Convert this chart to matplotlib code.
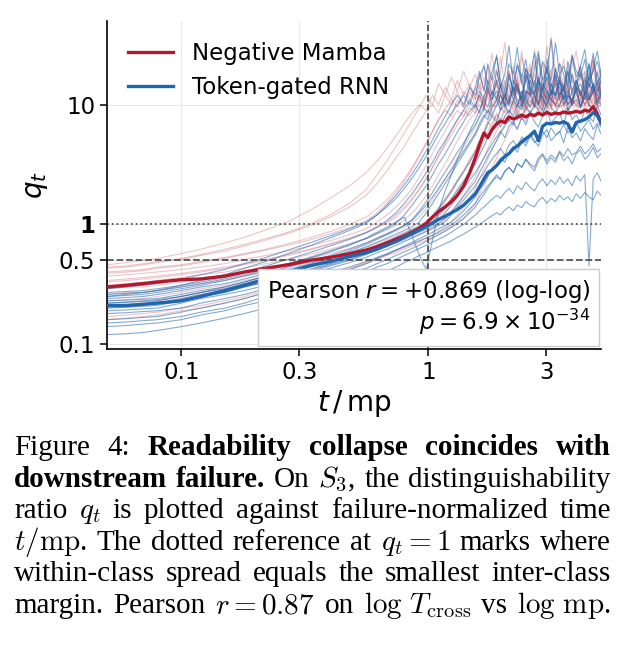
import matplotlib
matplotlib.use("Agg")
import matplotlib.pyplot as plt
from matplotlib.ticker import NullLocator

# failure-normalised time t / mp, shared by every run
t_grid = [0.05, 0.06, 0.07, 0.08, 0.10, 0.12, 0.15, 0.18, 0.22, 0.27, 0.33, 0.40, 0.48, 0.56,
          0.62, 0.68, 0.74, 0.80, 0.86, 0.92, 0.98, 1.04, 1.10, 1.17, 1.24, 1.31, 1.39, 1.47,
          1.55, 1.61, 1.68, 1.74, 1.81, 1.89, 1.96, 2.04, 2.12, 2.21, 2.29, 2.39, 2.48, 2.58, 2.69, 2.79,
          2.90, 3.02, 3.14, 3.27, 3.40, 3.53, 3.67, 3.82, 3.97, 4.13, 4.30, 4.47, 4.65, 4.83, 5.00]

mamba_mean = [0.30, 0.31, 0.32, 0.33, 0.345, 0.35, 0.37, 0.40, 0.43, 0.46, 0.50, 0.53, 0.57, 0.61,
              0.65, 0.70, 0.75, 0.80, 0.86, 0.93, 1.02, 1.15, 1.28, 1.40, 1.55, 1.75, 2.10, 2.70,
              3.6, 4.6, 5.8, 5.3, 6.2, 6.9, 7.3, 7.1, 7.9, 7.6, 7.8, 8.2, 7.9, 8.3, 8.1, 8.5,
              8.2, 8.6, 8.3, 8.5, 8.4, 8.7, 8.5, 8.6, 8.8, 8.6, 9.0, 8.8, 9.6, 8.4, 7.0]

rnn_mean = [0.21, 0.21, 0.215, 0.22, 0.23, 0.25, 0.28, 0.31, 0.35, 0.40, 0.45, 0.49, 0.54, 0.58,
            0.62, 0.67, 0.72, 0.78, 0.84, 0.90, 0.96, 1.03, 1.10, 1.17, 1.25, 1.33, 1.45, 1.62,
            1.80, 2.05, 2.40, 2.70, 2.85, 3.10, 3.40, 3.70, 3.90, 4.30, 4.50, 4.90, 5.20, 5.50, 6.00, 5.00,
            6.60, 7.00, 6.90, 7.10, 7.00, 7.20, 6.90, 5.90, 7.10, 7.30, 7.50, 7.90, 8.60, 8.10, 7.10]

# individual seeds, Negative Mamba
mamba_runs = [
    [0.46, 0.48, 0.50, 0.52, 0.57, 0.62, 0.70, 0.78, 0.90, 1.05, 1.30, 1.65, 2.10, 2.70,
     3.4, 4.3, 5.5, 7.0, 8.5, 10, 9.0, 12, 10, 14, 11, 16, 12, 15,
     11, 18, 13, 21, 12, 16, 25, 14, 19, 12, 17, 28, 15, 20, 13, 24,
     16, 31, 14, 19, 22, 13, 18, 26, 15, 21, 12, 17, 24, 14, 19],
    [0.43, 0.44, 0.46, 0.48, 0.51, 0.55, 0.60, 0.66, 0.74, 0.84, 0.97, 1.15, 1.40, 1.75,
     2.2, 2.8, 3.6, 4.5, 5.8, 7.2, 8.8, 10, 8.5, 12, 10, 13, 9.5, 14,
     11, 15, 9.5, 13, 17, 11, 14, 10, 19, 12, 15, 11, 16, 22, 12, 14,
     10, 17, 13, 20, 11, 15, 12, 18, 14, 10, 16, 13, 21, 12, 15],
    [0.40, 0.41, 0.42, 0.44, 0.46, 0.49, 0.53, 0.57, 0.62, 0.69, 0.77, 0.87, 1.00, 1.15,
     1.35, 1.60, 1.95, 2.40, 3.00, 3.80, 4.80, 6.0, 7.5, 9.0, 8.0, 11, 9.5, 13,
     10, 12, 9, 14, 11, 16, 10, 13, 9.5, 15, 12, 18, 11, 13, 10, 16,
     12, 14, 9.5, 17, 11, 13, 15, 10, 14, 12, 19, 11, 13, 10, 15],
    [0.37, 0.38, 0.39, 0.40, 0.42, 0.44, 0.47, 0.51, 0.55, 0.60, 0.66, 0.73, 0.82, 0.92,
     1.05, 1.20, 1.40, 1.65, 2.00, 2.50, 3.10, 3.90, 4.90, 6.0, 7.5, 9.0, 8.0, 10.5,
     9, 12, 10, 14, 9.5, 11, 15, 10, 13, 12, 17, 10, 12, 14, 9.5, 16,
     11, 13, 10, 18, 12, 11, 14, 10, 15, 13, 11, 16, 12, 10, 14],
    [0.34, 0.35, 0.36, 0.37, 0.39, 0.41, 0.44, 0.47, 0.51, 0.56, 0.62, 0.69, 0.77, 0.86,
     0.95, 1.05, 1.20, 1.40, 1.65, 2.00, 2.45, 3.00, 3.70, 4.60, 5.60, 6.8, 8.0, 9.5,
     8.5, 11, 9.5, 13, 10, 12, 9, 14, 11, 10, 15, 9.5, 12, 13, 10, 16,
     11, 9.5, 13, 12, 17, 10, 12, 11, 14, 9.5, 13, 11, 15, 10, 12],
    [0.31, 0.32, 0.33, 0.34, 0.36, 0.38, 0.40, 0.43, 0.47, 0.51, 0.56, 0.62, 0.69, 0.76,
     0.83, 0.90, 0.98, 1.08, 1.25, 1.45, 1.75, 2.10, 2.60, 3.20, 4.00, 5.00, 6.2, 7.5,
     8.5, 10, 9, 12, 8.5, 11, 13, 9.5, 12, 10, 14, 11, 9, 13, 12, 10,
     15, 11, 13, 9.5, 12, 14, 10, 11, 16, 12, 10, 13, 11, 14, 12],
    [0.29, 0.30, 0.30, 0.31, 0.33, 0.35, 0.37, 0.40, 0.43, 0.47, 0.52, 0.57, 0.63, 0.70,
     0.76, 0.82, 0.88, 0.95, 1.03, 1.15, 1.35, 1.60, 1.95, 2.40, 2.95, 3.60, 4.40, 5.40,
     6.5, 7.8, 9.0, 8.0, 10, 9.5, 12, 10, 11, 13, 9.5, 12, 10, 14, 11, 12,
     9.5, 15, 11, 10, 13, 12, 14, 10, 12, 11, 16, 10, 13, 12, 11],
    [0.26, 0.27, 0.27, 0.28, 0.30, 0.32, 0.34, 0.37, 0.40, 0.44, 0.48, 0.53, 0.58, 0.64,
     0.70, 0.75, 0.80, 0.86, 0.92, 0.98, 1.05, 1.20, 1.40, 1.65, 1.95, 2.35, 2.85, 3.50,
     4.2, 5.0, 6.0, 7.2, 8.5, 7.5, 9.5, 8.5, 11, 9.0, 10, 12, 9.5, 11, 10, 13,
     9, 12, 11, 10, 14, 9.5, 12, 10, 11, 13, 10, 12, 9.5, 14, 11],
    [0.23, 0.235, 0.24, 0.25, 0.27, 0.29, 0.31, 0.34, 0.37, 0.41, 0.45, 0.50, 0.55, 0.60,
     0.65, 0.70, 0.75, 0.80, 0.85, 0.91, 0.97, 1.03, 1.15, 1.35, 1.60, 1.90, 2.30, 2.80,
     3.4, 4.1, 5.0, 6.0, 7.0, 8.2, 7.3, 9.0, 8.0, 10, 8.5, 11, 9.5, 10, 12, 9,
     11, 10, 13, 9.5, 10, 12, 9, 11, 10, 13, 9.5, 12, 10, 11, 12],
    [0.20, 0.205, 0.21, 0.22, 0.24, 0.26, 0.28, 0.31, 0.34, 0.38, 0.42, 0.47, 0.52, 0.57,
     0.62, 0.66, 0.70, 0.74, 0.78, 0.83, 0.88, 0.94, 1.00, 1.10, 1.25, 1.45, 1.75, 2.10,
     2.5, 3.0, 3.6, 4.3, 5.1, 6.0, 7.0, 8.0, 7.2, 9.0, 8.0, 10, 8.5, 11, 9.5, 10,
     12, 9, 11, 10, 9.5, 13, 10, 11, 9.5, 12, 10, 11, 13, 9, 11],
    [0.17, 0.175, 0.18, 0.185, 0.20, 0.21, 0.23, 0.25, 0.28, 0.31, 0.35, 0.39, 0.43, 0.48,
     0.52, 0.56, 0.60, 0.64, 0.68, 0.72, 0.77, 0.82, 0.88, 0.95, 1.05, 1.20, 1.40, 1.65,
     2.0, 2.4, 2.9, 3.5, 4.2, 5.0, 5.9, 6.9, 8.0, 7.2, 9.0, 8.0, 10, 8.5, 9.5, 11,
     8.5, 10, 9, 12, 9.5, 10, 8.5, 11, 10, 9, 12, 9.5, 11, 10, 9.5],
    [0.16, 0.165, 0.17, 0.175, 0.19, 0.20, 0.22, 0.24, 0.27, 0.30, 0.34, 0.38, 0.42, 0.47,
     0.51, 0.55, 0.58, 0.62, 0.66, 0.70, 0.74, 0.78, 0.83, 0.88, 0.94, 1.00, 1.12, 1.30,
     1.5, 1.8, 2.1, 2.5, 3.0, 3.6, 4.3, 5.1, 6.0, 7.0, 6.3, 8.0, 7.2, 9.0, 8.0, 9.5,
     8.5, 10, 8.0, 9.0, 11, 8.5, 9.5, 10, 8.5, 11, 9.0, 10, 9.5, 12, 10],
    [0.44, 0.45, 0.47, 0.49, 0.52, 0.56, 0.62, 0.68, 0.76, 0.86, 1.00, 1.20, 1.50, 1.95,
     2.6, 3.4, 4.5, 5.8, 7.5, 9.5, 12, 10, 15, 12, 17, 13, 19, 14,
     18, 13, 22, 15, 27, 14, 19, 33, 16, 21, 13, 25, 18, 15, 29, 17,
     22, 14, 37, 19, 16, 24, 13, 21, 28, 16, 19, 14, 23, 17, 20],
    [0.39, 0.40, 0.41, 0.43, 0.45, 0.48, 0.52, 0.56, 0.61, 0.67, 0.74, 0.83, 0.94, 1.07,
     1.25, 1.50, 1.85, 2.30, 2.90, 3.70, 4.70, 6.0, 7.5, 9.2, 11, 9.5, 13, 11,
     14, 11, 17, 12, 15, 20, 13, 16, 11, 19, 14, 12, 18, 15, 23, 13,
     16, 12, 20, 14, 17, 13, 21, 15, 12, 18, 14, 16, 25, 13, 17],
    [0.33, 0.34, 0.35, 0.36, 0.38, 0.40, 0.43, 0.46, 0.50, 0.55, 0.61, 0.68, 0.76, 0.85,
     0.94, 1.02, 1.15, 1.35, 1.60, 1.95, 2.40, 3.00, 3.80, 4.80, 6.0, 7.4, 9.0, 8.0,
     10, 12, 9.5, 13, 11, 15, 10, 12, 14, 11, 16, 10, 13, 12, 18, 11,
     14, 10, 13, 15, 11, 17, 12, 10, 14, 13, 11, 15, 12, 16, 13],
    [0.21, 0.215, 0.22, 0.23, 0.25, 0.27, 0.29, 0.32, 0.36, 0.40, 0.45, 0.50, 0.56, 0.62,
     0.68, 0.73, 0.78, 0.84, 0.90, 0.96, 1.02, 1.12, 1.30, 1.55, 1.85, 2.25, 2.75, 3.40,
     4.1, 5.0, 6.0, 7.2, 6.5, 8.5, 7.5, 9.5, 8.5, 11, 9, 10, 12, 9.5, 11, 13,
     10, 12, 9.5, 14, 11, 10, 12, 11, 13, 9.5, 12, 10, 14, 11, 12],
]

# individual seeds, token-gated RNN
rnn_runs = [
    [0.29, 0.30, 0.31, 0.32, 0.35, 0.38, 0.42, 0.47, 0.53, 0.61, 0.70, 0.80, 0.92, 1.05,
     1.20, 1.40, 1.65, 2.00, 2.45, 3.00, 3.70, 4.60, 5.70, 7.0, 8.5, 10, 12, 10,
     14, 19, 13, 22, 16, 26, 14, 18, 31, 15, 21, 17, 24, 13, 20, 28,
     16, 19, 35, 15, 22, 18, 14, 25, 17, 21, 29, 16, 19, 23, 17],
    [0.27, 0.275, 0.28, 0.29, 0.31, 0.33, 0.36, 0.40, 0.45, 0.51, 0.58, 0.66, 0.75, 0.85,
     0.95, 1.08, 1.25, 1.50, 1.80, 2.20, 2.70, 3.30, 4.10, 5.00, 6.2, 7.5, 9.0, 11,
     9.5, 13, 11, 16, 12, 19, 14, 11, 17, 13, 22, 15, 12, 18, 14, 26,
     13, 17, 12, 20, 15, 13, 23, 16, 14, 19, 12, 17, 27, 15, 18],
    [0.25, 0.255, 0.26, 0.27, 0.29, 0.31, 0.34, 0.37, 0.41, 0.46, 0.52, 0.59, 0.67, 0.76,
     0.84, 0.92, 1.02, 1.20, 1.45, 1.75, 2.10, 2.60, 3.20, 3.90, 4.80, 5.90, 7.2, 8.8,
     10, 8.5, 12, 14, 11, 16, 12, 10, 18, 13, 15, 11, 20, 14, 12, 17,
     13, 24, 15, 11, 16, 14, 19, 12, 15, 21, 13, 17, 14, 12, 16],
    [0.24, 0.245, 0.25, 0.26, 0.28, 0.30, 0.32, 0.35, 0.39, 0.44, 0.49, 0.55, 0.62, 0.70,
     0.77, 0.84, 0.91, 0.98, 1.10, 1.30, 1.55, 1.85, 2.25, 2.75, 3.30, 4.00, 4.80, 5.80,
     6.8, 8.0, 9.5, 8.5, 11, 13, 10, 12, 15, 11, 14, 10, 17, 12, 13, 16,
     11, 20, 13, 12, 15, 14, 11, 18, 13, 15, 12, 22, 14, 13, 16],
    [0.23, 0.233, 0.237, 0.24, 0.26, 0.28, 0.30, 0.33, 0.37, 0.41, 0.46, 0.52, 0.58, 0.65,
     0.71, 0.77, 0.83, 0.89, 0.96, 1.05, 1.25, 1.50, 1.80, 2.20, 2.65, 3.20, 3.90, 4.70,
     5.6, 6.6, 7.8, 9.0, 8.0, 10, 12, 9.5, 11, 14, 10, 13, 11, 16, 12, 10,
     15, 13, 11, 18, 12, 14, 10, 13, 16, 12, 11, 15, 13, 19, 12],
    [0.22, 0.223, 0.227, 0.23, 0.25, 0.27, 0.29, 0.32, 0.35, 0.39, 0.44, 0.49, 0.55, 0.61,
     0.67, 0.72, 0.78, 0.84, 0.90, 0.96, 1.03, 1.15, 1.35, 1.60, 1.90, 2.30, 2.75, 3.30,
     4.0, 4.8, 5.7, 6.8, 8.0, 7.2, 9.0, 10, 8.5, 11, 9.5, 13, 10, 12, 9.5, 14,
     11, 10, 13, 12, 16, 10, 12, 11, 14, 9.5, 13, 12, 15, 11, 13],
    [0.21, 0.213, 0.217, 0.22, 0.24, 0.26, 0.28, 0.31, 0.34, 0.38, 0.42, 0.47, 0.53, 0.59,
     0.65, 0.70, 0.75, 0.80, 0.86, 0.92, 0.98, 1.05, 1.20, 1.40, 1.65, 1.95, 2.30, 2.70,
     3.2, 3.8, 4.5, 5.3, 6.2, 7.2, 6.5, 8.0, 9.0, 8.0, 10, 9.0, 11, 9.5, 12, 10,
     9.0, 13, 11, 10, 12, 14, 10, 11, 13, 9.5, 12, 11, 15, 10, 12],
    [0.20, 0.203, 0.207, 0.21, 0.23, 0.25, 0.27, 0.30, 0.33, 0.37, 0.41, 0.46, 0.51, 0.57,
     0.62, 0.67, 0.72, 0.77, 0.82, 0.88, 0.94, 1.00, 1.10, 1.25, 1.45, 1.70, 2.00, 2.35,
     2.7, 3.1, 3.6, 4.1, 4.7, 5.4, 6.0, 5.3, 6.6, 7.2, 6.2, 7.8, 6.8, 8.5, 7.2, 6.5,
     8.0, 9.0, 7.0, 7.8, 8.5, 6.8, 9.5, 7.5, 8.2, 7.0, 9.0, 8.0, 7.2, 9.8, 8.2],
    [0.19, 0.193, 0.197, 0.20, 0.22, 0.24, 0.26, 0.28, 0.31, 0.35, 0.39, 0.43, 0.48, 0.53,
     0.58, 0.62, 0.67, 0.72, 0.77, 0.82, 0.87, 0.92, 0.98, 1.05, 1.20, 1.40, 1.60, 1.85,
     2.1, 2.4, 2.7, 3.1, 3.5, 3.9, 4.3, 3.8, 4.6, 5.0, 4.4, 5.4, 4.8, 5.8, 5.0, 4.5,
     5.6, 6.2, 5.0, 5.5, 6.0, 4.8, 6.5, 5.3, 5.8, 5.0, 6.3, 5.6, 5.1, 6.8, 5.7],
    [0.18, 0.183, 0.187, 0.19, 0.20, 0.22, 0.24, 0.26, 0.29, 0.32, 0.36, 0.40, 0.44, 0.49,
     0.53, 0.57, 0.61, 0.65, 0.69, 0.73, 0.77, 0.81, 0.86, 0.92, 0.99, 1.08, 1.20, 1.35,
     1.5, 1.7, 1.9, 2.1, 2.3, 2.6, 2.4, 2.8, 3.0, 2.7, 3.2, 3.0, 3.5, 3.1, 2.8, 3.4,
     3.8, 3.2, 3.6, 3.3, 4.0, 3.4, 3.7, 3.2, 3.9, 4.2, 3.5, 3.8, 4.4, 3.6, 3.9],
    [0.14, 0.143, 0.147, 0.15, 0.16, 0.175, 0.19, 0.21, 0.23, 0.26, 0.29, 0.32, 0.36, 0.40,
     0.44, 0.47, 0.51, 0.55, 0.59, 0.63, 0.67, 0.71, 0.75, 0.80, 0.86, 0.93, 1.00, 1.10,
     1.20, 1.30, 1.40, 1.50, 1.62, 1.75, 1.65, 1.85, 2.00, 1.80, 2.10, 1.95, 2.25, 2.05, 1.90, 2.20,
     2.40, 2.10, 2.35, 2.15, 2.50, 2.20, 2.40, 2.10, 2.55, 2.30, 2.60, 0.45, 2.40, 2.70, 2.30],
    [0.12, 0.122, 0.125, 0.13, 0.14, 0.15, 0.165, 0.18, 0.20, 0.22, 0.25, 0.28, 0.31, 0.35,
     0.38, 0.41, 0.44, 0.48, 0.51, 0.55, 0.58, 0.62, 0.65, 0.69, 0.73, 0.78, 0.83, 0.89,
     0.95, 1.00, 1.06, 1.12, 1.18, 1.25, 1.20, 1.32, 1.40, 1.30, 1.45, 1.38, 1.55, 1.45, 1.40, 1.58,
     1.68, 1.50, 1.65, 1.55, 1.75, 1.60, 1.70, 1.55, 1.80, 1.65, 1.85, 1.70, 1.60, 1.90, 1.75],
    [0.26, 0.265, 0.27, 0.28, 0.30, 0.32, 0.35, 0.38, 0.42, 0.47, 0.53, 0.60, 0.68, 0.77,
     0.86, 0.95, 1.05, 1.15, 0.80, 0.55, 0.42, 0.75, 1.30, 1.90, 2.60, 3.50, 4.60, 6.0,
     7.5, 9.0, 11, 9.5, 13, 11, 15, 12, 10, 16, 13, 11, 18, 14, 12, 17,
     13, 21, 12, 15, 14, 11, 19, 13, 16, 12, 14, 22, 13, 15, 17],
    [0.25, 0.26, 0.27, 0.28, 0.31, 0.34, 0.38, 0.43, 0.49, 0.57, 0.66, 0.77, 0.89, 1.02,
     1.20, 1.45, 1.75, 2.15, 2.65, 3.30, 4.10, 5.10, 6.4, 8.0, 10, 12, 10, 14,
     12, 17, 21, 14, 19, 25, 16, 13, 22, 18, 30, 15, 20, 17, 27, 14,
     23, 19, 16, 33, 18, 21, 15, 26, 19, 17, 24, 14, 20, 28, 18],
    [0.16, 0.163, 0.167, 0.17, 0.185, 0.20, 0.22, 0.24, 0.27, 0.30, 0.34, 0.38, 0.42, 0.47,
     0.52, 0.56, 0.61, 0.66, 0.71, 0.76, 0.81, 0.86, 0.92, 0.98, 1.05, 1.15, 1.30, 1.48,
     1.70, 1.95, 2.20, 2.50, 2.85, 3.20, 3.60, 3.30, 4.00, 4.50, 4.00, 5.00, 4.50, 5.50, 4.80, 5.20,
     6.00, 5.30, 6.40, 5.60, 5.90, 6.80, 5.80, 6.30, 7.20, 6.00, 6.70, 7.50, 6.20, 7.00, 6.50],
    [0.22, 0.225, 0.23, 0.235, 0.25, 0.27, 0.30, 0.33, 0.37, 0.42, 0.47, 0.53, 0.60, 0.68,
     0.75, 0.82, 0.90, 0.98, 1.08, 1.25, 1.45, 1.70, 2.00, 2.40, 2.85, 3.40, 4.10, 4.90,
     5.8, 7.0, 8.2, 7.5, 9.5, 11, 9.0, 12, 10, 14, 11, 9.5, 13, 12, 16, 10,
     13, 11, 15, 12, 18, 11, 13, 10, 14, 12, 17, 11, 13, 15, 12],
    [0.205, 0.21, 0.213, 0.217, 0.23, 0.25, 0.27, 0.30, 0.33, 0.36, 0.40, 0.45, 0.50, 0.56,
     0.61, 0.66, 0.71, 0.76, 0.81, 0.86, 0.91, 0.96, 1.02, 1.12, 1.28, 1.48, 1.72, 2.00,
     2.3, 2.7, 3.2, 3.7, 4.3, 5.0, 5.8, 6.6, 7.5, 6.8, 8.5, 7.5, 9.5, 8.5, 10, 9.0,
     8.0, 11, 9.5, 8.5, 10, 12, 9.0, 10, 11, 9.5, 13, 10, 9.0, 11, 10],
    [0.15, 0.153, 0.157, 0.16, 0.17, 0.185, 0.20, 0.22, 0.25, 0.28, 0.31, 0.35, 0.39, 0.43,
     0.47, 0.51, 0.55, 0.59, 0.63, 0.67, 0.72, 0.77, 0.82, 0.88, 0.95, 1.03, 1.12, 1.25,
     1.40, 1.58, 1.78, 2.00, 2.25, 2.50, 2.35, 2.75, 3.00, 2.70, 3.25, 3.00, 3.50, 3.20, 3.00, 3.60,
     3.90, 3.40, 3.80, 3.50, 4.10, 3.70, 4.30, 3.80, 4.00, 4.50, 3.90, 4.20, 4.70, 4.00, 4.30],
]

assert all(len(r) == len(t_grid) for r in mamba_runs + rnn_runs + [mamba_mean, rnn_mean])

x_ticks = [0.1, 0.3, 1, 3]
x_ticklabels = ["0.1", "0.3", "1", "3"]
y_ticks = [0.1, 0.5, 1, 10]
y_ticklabels = ["0.1", "0.5", "1", "10"]

pearson_r = 0.869
p_mant, p_exp = 6.9, -34

RED = "#b2182b"
BLUE = "#2166ac"
FS = 16.5

W, H = 628, 645
fig = plt.figure(figsize=(W / 100, H / 100), dpi=100)
fig.patch.set_facecolor("white")
ax = fig.add_axes([107 / W, 1 - 349 / H, (601 - 107) / W, (349 - 21) / H])

for run in mamba_runs:
    ax.plot(t_grid, run, color=RED, lw=0.8, alpha=0.25, zorder=2)
for run in rnn_runs:
    ax.plot(t_grid, run, color=BLUE, lw=0.8, alpha=0.55, zorder=2)

ax.axvline(1, color="#444444", ls="--", lw=1.2, zorder=2.5)
ax.axhline(1, color="#555555", ls=":", lw=1.3, zorder=2.5)
ax.axhline(0.5, color="#555555", ls="--", lw=1.3, zorder=2.5)

ax.plot(t_grid, mamba_mean, color=RED, lw=2.4, zorder=3, label="Negative Mamba")
ax.plot(t_grid, rnn_mean, color=BLUE, lw=2.4, zorder=3.1, label="Token-gated RNN")

ax.set_xscale("log")
ax.set_yscale("log")
ax.set_xlim(0.05, 5.0)
ax.set_ylim(0.091, 50)
ax.set_xticks(x_ticks)
ax.set_xticklabels(x_ticklabels)
ax.set_yticks(y_ticks)
ax.set_yticklabels(y_ticklabels)
ax.xaxis.set_minor_locator(NullLocator())
ax.yaxis.set_minor_locator(NullLocator())
ax.get_yticklabels()[2].set_fontweight("bold")
ax.tick_params(labelsize=FS, length=5, width=1.1)
ax.grid(True, color="#e8e8e8", lw=0.8)
ax.set_axisbelow(True)
for side in ["top", "right"]:
    ax.spines[side].set_visible(False)
for side in ["left", "bottom"]:
    ax.spines[side].set_linewidth(1.2)

ax.set_xlabel(r"$t\,/\,\mathrm{mp}$", fontsize=20, labelpad=3)
ax.set_ylabel(r"$q_t$", fontsize=20, labelpad=6)

ax.legend(loc="upper left", frameon=False, fontsize=FS, handlelength=2.0)

ax.text(0.979, 0.036,
        f"Pearson $r = +{pearson_r:.3f}$ (log-log)\n$p = {p_mant}\\times10^{{{p_exp}}}$",
        transform=ax.transAxes, ha="right", va="bottom", multialignment="right",
        fontsize=FS, linespacing=1.1, zorder=5,
        bbox=dict(boxstyle="square,pad=0.38", facecolor="white", edgecolor="#cccccc", linewidth=1))

# caption, justified word by word like the LaTeX original
caption_lines = [
    [("Figure", 0), ("4:", 0), ("Readability", 1), ("collapse", 1), ("coincides", 1), ("with", 1)],
    [("downstream", 1), ("failure.", 1), ("On", 0), ("$S_3$,", 0), ("the", 0), ("distinguishability", 0)],
    [("ratio", 0), ("$q_t$", 0), ("is", 0), ("plotted", 0), ("against", 0), ("failure-normalized", 0), ("time", 0)],
    [(r"$t/\mathrm{mp}$.", 0), ("The", 0), ("dotted", 0), ("reference", 0), ("at", 0), ("$q_t = 1$", 0),
     ("marks", 0), ("where", 0)],
    [("within-class", 0), ("spread", 0), ("equals", 0), ("the", 0), ("smallest", 0), ("inter-class", 0)],
    [("margin.", 0), ("Pearson", 0), ("$r = 0.87$", 0), ("on", 0), (r"$\log\,T_{\mathrm{cross}}$", 0),
     ("vs", 0), (r"$\log\,\mathrm{mp}$.", 0)],
]
X0, X1 = 14, 611
first_baseline, line_step = 455, 31.6

renderer = fig.canvas.get_renderer()
for i, words in enumerate(caption_lines):
    y = 1 - (first_baseline + i * line_step) / H
    objs = []
    for word, bold in words:
        objs.append(fig.text(0, y, word, fontsize=21, family="Liberation Serif",
                             weight="bold" if bold else "normal", math_fontfamily="cm",
                             ha="left", va="baseline"))
    widths = [o.get_window_extent(renderer).width for o in objs]
    gap = (X1 - X0 - sum(widths)) / (len(objs) - 1)
    x = X0
    for o, w in zip(objs, widths):
        o.set_x(x / W)
        x += w + gap

fig.savefig("out.png", dpi=100, facecolor="white")
